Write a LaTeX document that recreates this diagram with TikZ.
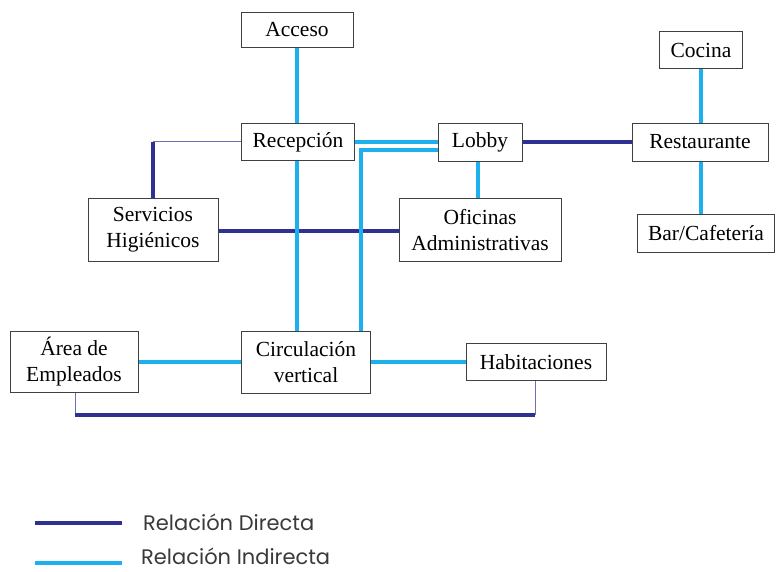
\documentclass[tikz,border=0pt]{standalone}
\usepackage{fontspec}
\setmainfont{Liberation Serif}
\newfontfamily\legendfont{Poppins}
\usetikzlibrary{positioning, calc, backgrounds}
\definecolor{direct}{HTML}{2E3192}
\definecolor{indirect}{HTML}{1CB0EC}
\definecolor{legendtext}{HTML}{3A3A3A}
\begin{document}
\begin{tikzpicture}[
    x=1pt, y=-1pt,
    box/.style={draw=black!75, line width=0.9pt, fill=white, inner sep=2pt, align=center, font=\fontsize{21.5}{26}\selectfont},
    dir/.style={draw=direct, line width=3.8pt},
    dirthin/.style={draw=direct!70, line width=1pt},
    ind/.style={draw=indirect, line width=3.8pt},
    leg/.style={font=\legendfont\fontsize{21}{24}\selectfont, text=legendtext, anchor=west, inner sep=0pt}
]
\useasboundingbox (0,0) rectangle (776,572);
% Boxes
\node[box, minimum width=112pt, minimum height=35pt] (acc) at (297,30) {Acceso};
\node[box, minimum width=113pt, minimum height=37pt] (rec) at (298,142) {Recepción};
\node[box, minimum width=84pt, minimum height=38pt] (lob) at (480,142) {Lobby};
\node[box, minimum width=83pt, minimum height=37pt] (coc) at (701,50) {Cocina};
\node[box, minimum width=136pt, minimum height=38pt] (res) at (700,142) {Restaurante};
\node[box, minimum width=137pt, minimum height=38pt] (bar) at (706,233) {Bar/Cafetería};
\node[box, minimum width=130pt, minimum height=63pt] (ser) at (153,230) {Servicios\\Higiénicos};
\node[box, minimum width=162pt, minimum height=63pt] (ofi) at (480,230) {Oficinas\\Administrativas};
\node[box, minimum width=128pt, minimum height=61pt] (are) at (74,362) {Área de\\Empleados};
\node[box, minimum width=129pt, minimum height=62pt] (cir) at (306,362) {Circulación\\vertical};
\node[box, minimum width=140pt, minimum height=37pt] (hab) at (536,362) {Habitaciones};
% Bends
\coordinate (serbend) at (153,142);
\coordinate (lobbend) at (361,150);
\coordinate (arebend) at (75,415);
\coordinate (habbend) at (535,415);
\begin{scope}[on background layer]
% Direct relations
\draw[dir] (lob.east) -- (res.west);
\draw[dirthin] (rec.west) -- (serbend);
\draw[dir] (serbend) -- (ser.north);
\draw[dir] (ser.east |- 0,231) -- (ofi.west |- 0,231);
\draw[dirthin] (are.south -| arebend) -- (arebend);
\draw[dirthin] (hab.south -| habbend) -- (habbend);
\draw[dir] (arebend) -- (habbend);
% Indirect relations
\draw[ind] (acc.south -| 297,0) -- (rec.north -| 297,0);
\draw[ind] (rec.south -| 297,0) -- (cir.north -| 297,0);
\draw[ind] (rec.east) -- (lob.west);
\draw[ind] (lob.west |- lobbend) -- (lobbend) -- (lobbend |- cir.north);
\draw[ind] (lob.south -| 478,0) -- (ofi.north -| 478,0);
\draw[ind] (coc.south -| 701,0) -- (res.north -| 701,0);
\draw[ind] (res.south -| 701,0) -- (bar.north -| 701,0);
\draw[ind] (are.east) -- (cir.west);
\draw[ind] (cir.east) -- (hab.west);
\end{scope}
% Legend
\coordinate (dirA) at (35,523);
\coordinate (dirB) at (122,523);
\coordinate (indA) at (35,563);
\coordinate (indB) at (122,563);
\draw[dir] (dirA) -- (dirB);
\draw[ind] (indA) -- (indB);
\node[leg] (dirtxt) at (143,522) {Relación Directa};
\node[leg] (indtxt) at (141,556) {Relación Indirecta};
\end{tikzpicture}
\end{document}
